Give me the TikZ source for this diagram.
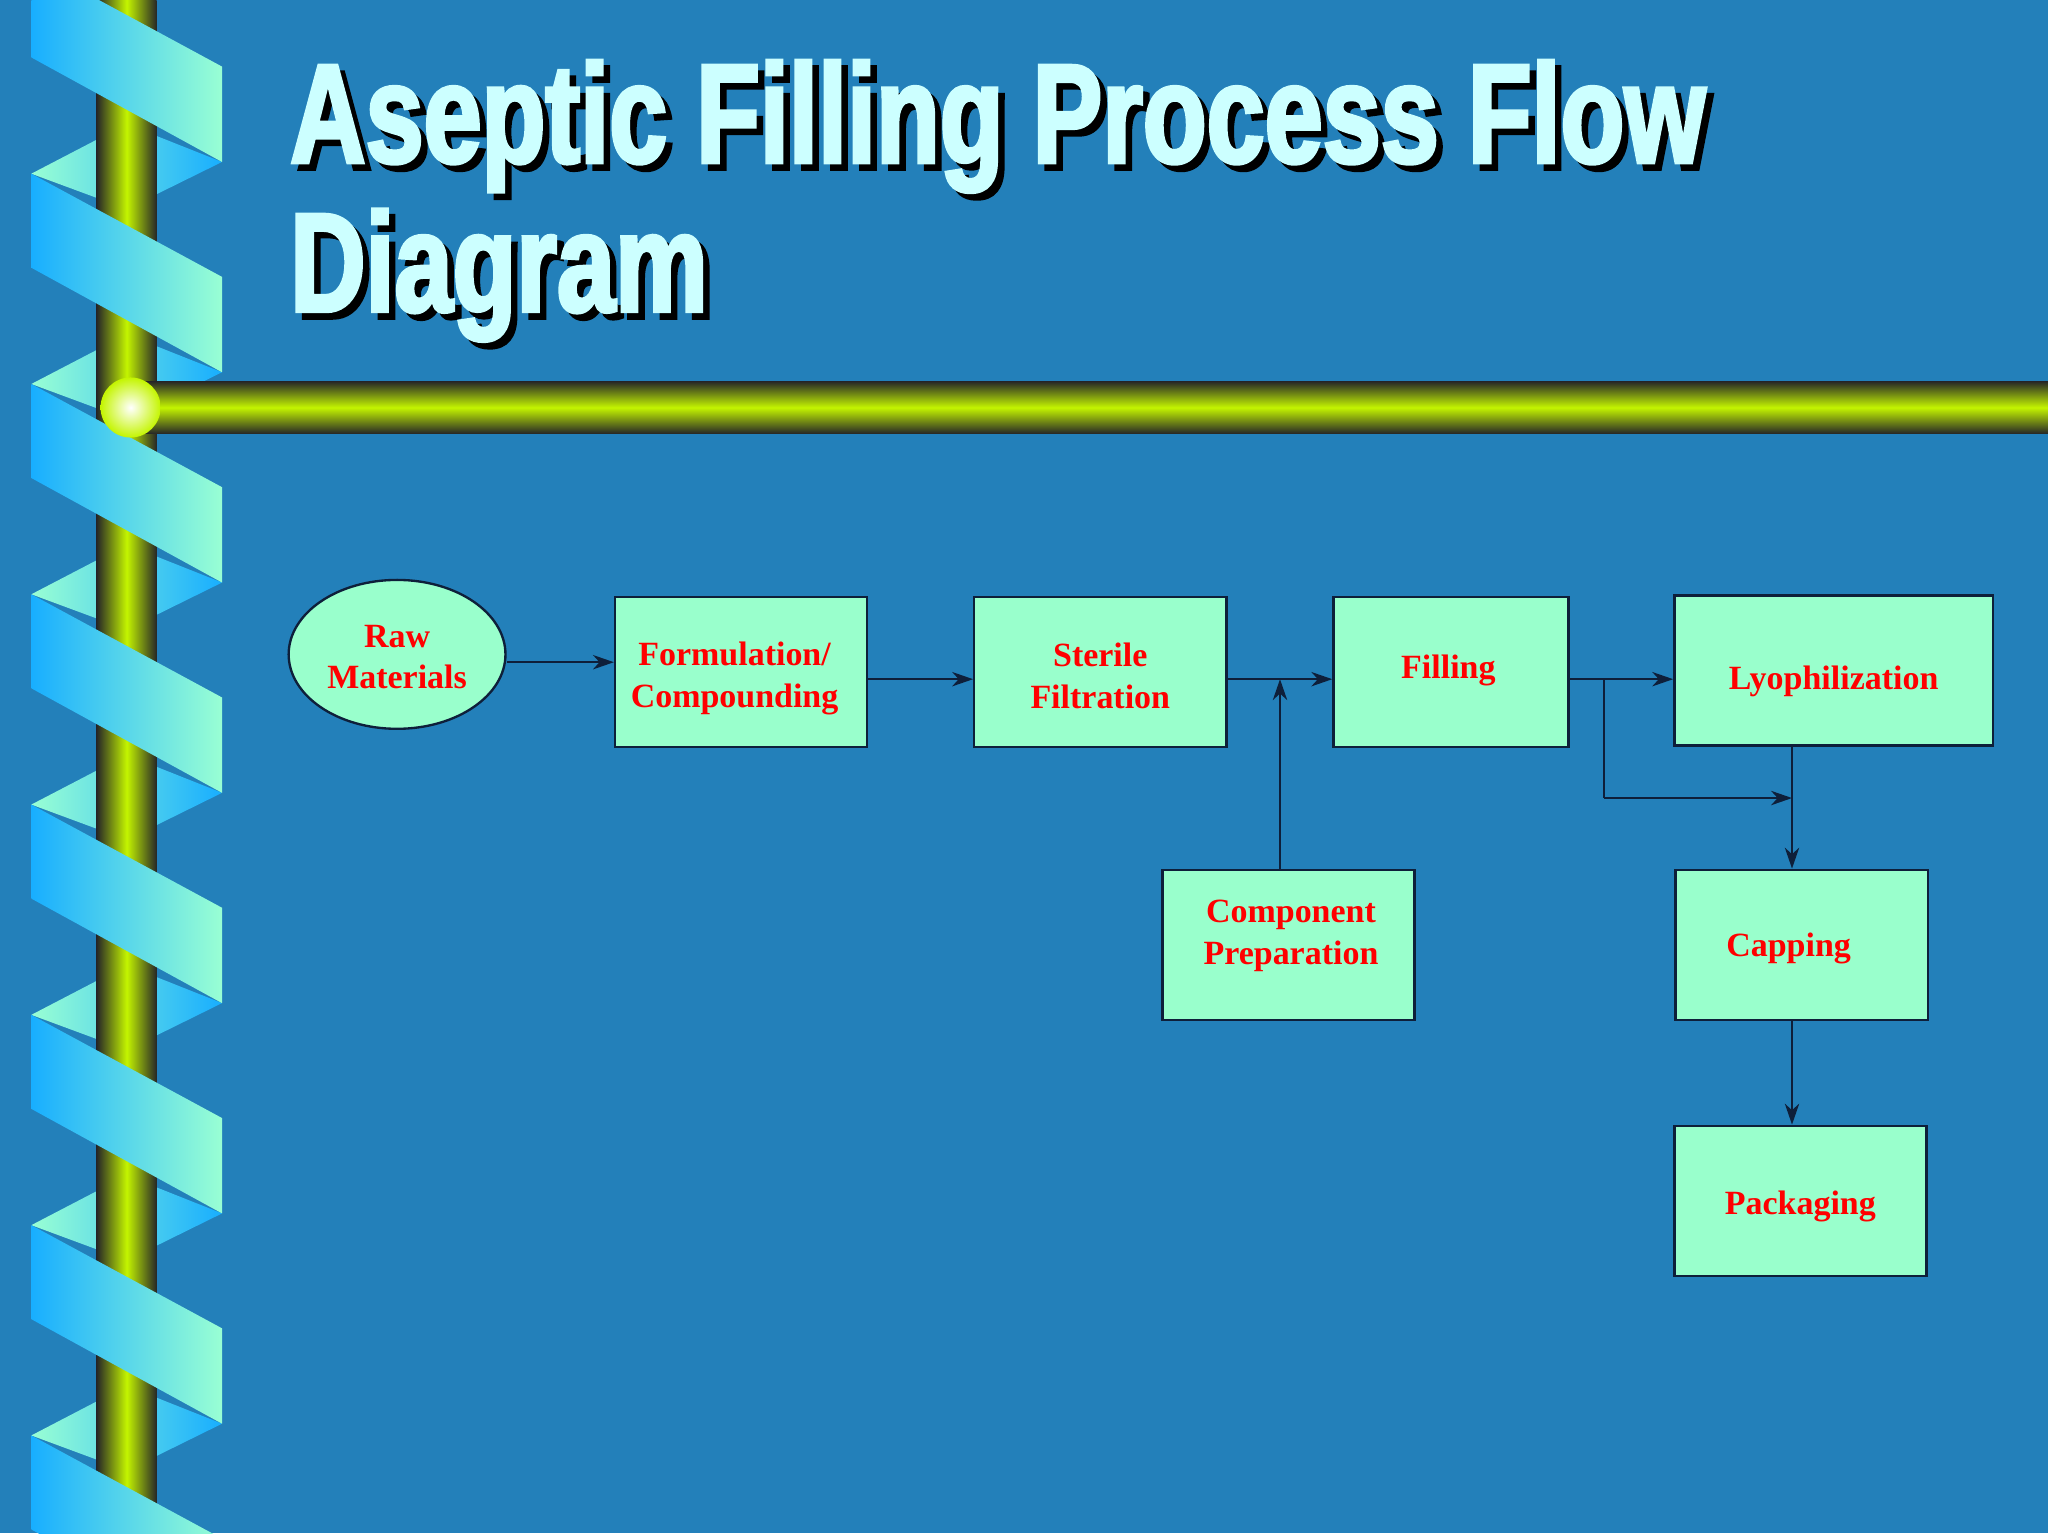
\documentclass[tikz,border=0pt]{standalone}
\usepackage{fontspec}
\setmainfont{Liberation Serif}
\newfontfamily\titlef{Liberation Sans}[FakeStretch=0.74,FakeBold=2.5]
\usetikzlibrary{arrows.meta,shapes.geometric}
\definecolor{bg}{HTML}{2380BA}
\definecolor{boxf}{HTML}{99FFCC}
\definecolor{edge}{HTML}{0E1F3A}
\definecolor{pole}{HTML}{C4F500}
\definecolor{ttl}{HTML}{CCFFFF}
\definecolor{rb}{HTML}{18AEFF}
\definecolor{rg}{HTML}{99FFD4}
\tikzset{
 box/.style={draw=edge,line width=1.8pt,fill=boxf,rectangle,anchor=north west,inner sep=0},
 lbl/.style={text=red,font=\bfseries\fontsize{26}{32}\selectfont,align=center},
 con/.style={draw=edge,line width=1.6pt,-{Stealth[length=16pt,width=11pt,inset=5pt]}},
 seg/.style={draw=edge,line width=1.6pt}
}
\begin{document}
\begin{tikzpicture}[x=1pt,y=-1pt]
\fill[bg] (0,0) rectangle (1568,1174);
\useasboundingbox (0,0) rectangle (1568,1174);
% ribbon back
\foreach \y in {-189,-28,133,294,455,616,777,938,1099}{
 \shade[left color=rg,right color=rb] (24,\y) -- (97,\y-38) -- (170,\y-9) -- (97,\y+27) -- cycle;
}
% pole
\shade[left color=black!85,right color=black!85,middle color=pole] (74,0) rectangle (120,1174);
% ribbon front
\foreach \y in {-28,133,294,455,616,777,938,1099}{
 \shade[left color=rb,right color=rg] (24,\y) -- (170,\y+79) -- (170,\y+152) -- (24,\y+72) -- cycle;
}
\shade[top color=black!85,bottom color=black!85,middle color=pole] (100,292) rectangle (1568,332);
\shade[inner color=white,outer color=pole] (100,312) circle (23);
% title
\foreach \dx/\c in {5/black,0/ttl}{
 \node[anchor=north west,text=\c,font=\titlef\bfseries\fontsize{108}{114}\selectfont,inner sep=0,align=left] at (222+\dx,46+\dx) {Aseptic Filling Process Flow\\Diagram};
}
% nodes
\node[draw=edge,line width=1.8pt,fill=boxf,ellipse,minimum width=166,minimum height=114] (raw) at (304,501) {};
\node[lbl] at ([yshift=-2]raw.center) {Raw\\Materials};
\node[box,minimum width=193,minimum height=115] (form) at (470,456) {};
\node[lbl] at ([xshift=-5,yshift=-5]form.center) {Formulation/\\Compounding};
\node[box,minimum width=193,minimum height=115] (ster) at (745,456) {};
\node[lbl] at ([yshift=-3]ster.center) {Sterile\\Filtration};
\node[box,minimum width=180,minimum height=115] (fill) at (1020,456) {};
\node[lbl] at ([xshift=-2,yshift=1]fill.center) {Filling};
\node[box,minimum width=244,minimum height=115] (lyo) at (1281,455) {};
\node[lbl] at ([yshift=-8]lyo.center) {Lyophilization};
\node[box,minimum width=193,minimum height=115] (comp) at (889,665) {};
\node[lbl] at ([xshift=2,yshift=7]comp.center) {Component\\Preparation};
\node[box,minimum width=193,minimum height=115] (cap) at (1282,665) {};
\node[lbl] at ([xshift=-10,yshift=-3]cap.center) {Capping};
\node[box,minimum width=193,minimum height=115] (pack) at (1281,861) {};
\node[lbl] at ([yshift=-4]pack.center) {Packaging};
% connectors
\coordinate (j1) at (980,520);
\coordinate (j2) at (1228,520);
\coordinate (j3) at (1228,611);
\coordinate (j4) at (1372,611);
\draw[con] (raw.east |- 0,507) -- (form.west |- 0,507);
\draw[con] (form.east |- 0,520) -- (ster.west |- 0,520);
\draw[con] (ster.east |- 0,520) -- (fill.west |- 0,520);
\draw[con] (comp.north -| j1) -- (j1);
\draw[con] (fill.east |- 0,520) -- (lyo.west |- 0,520);
\draw[seg] (j2) -- (j3);
\draw[con] (j3) -- (j4);
\draw[con] (lyo.south -| j4) -- (cap.north -| j4);
\draw[con] (cap.south -| j4) -- (pack.north -| j4);
\end{tikzpicture}
\end{document}
